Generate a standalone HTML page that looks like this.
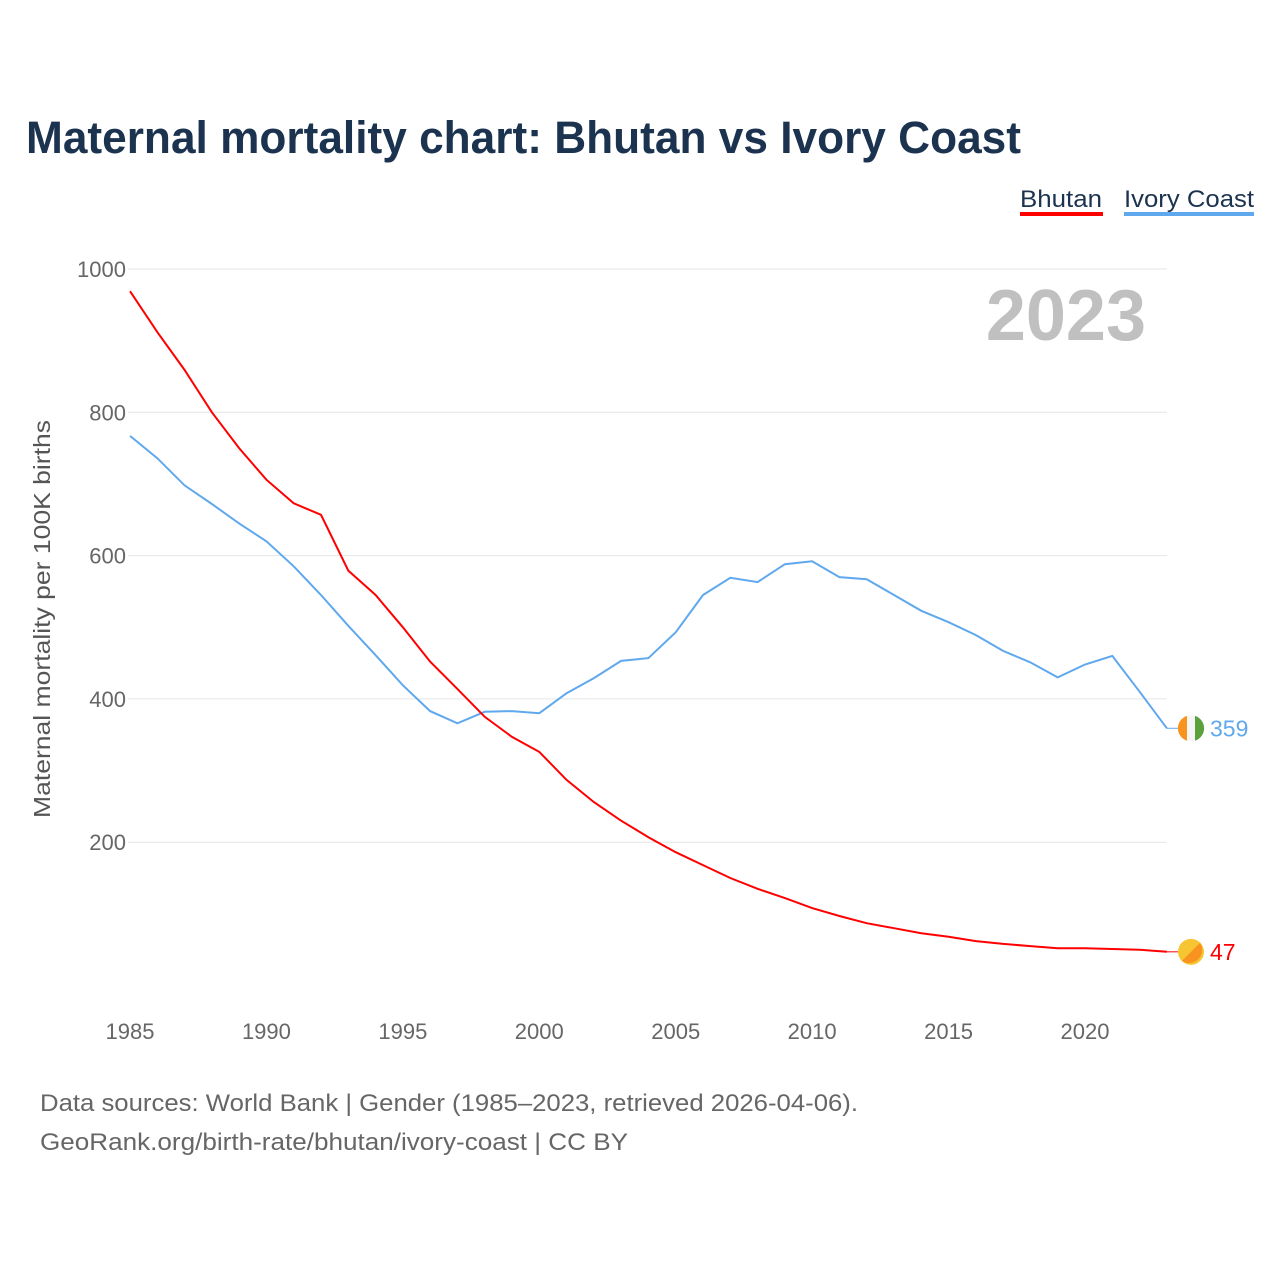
<!DOCTYPE html>
<html><head><meta charset="utf-8">
<style>
body{margin:0;background:#fff;width:1280px;height:1280px;overflow:hidden;font-family:"Liberation Sans",sans-serif}
</style></head>
<body>
<svg id="chart" width="1280" height="1280" xmlns="http://www.w3.org/2000/svg">
<text x="26" y="153" font-size="45" font-weight="bold" fill="#1c3350" textLength="995" lengthAdjust="spacingAndGlyphs">Maternal mortality chart: Bhutan vs Ivory Coast</text>
<g><text x="1020" y="207" font-size="24" fill="#1c3350" textLength="82" lengthAdjust="spacingAndGlyphs">Bhutan</text><rect x="1020" y="212" width="83" height="4" fill="#ff0000"/></g>
<g><text x="1124" y="207" font-size="24" fill="#1c3350" textLength="130" lengthAdjust="spacingAndGlyphs">Ivory Coast</text><rect x="1124" y="212" width="130" height="4" fill="#5fa8ee"/></g>
<text x="1146" y="340" text-anchor="end" font-size="72" font-weight="bold" fill="#c0c0c0">2023</text>
<g id="grid"></g><g id="series"></g>
<text transform="translate(50,619) rotate(-90)" text-anchor="middle" font-size="23" fill="#555" textLength="398" lengthAdjust="spacingAndGlyphs">Maternal mortality per 100K births</text>
<text x="40" y="1111" font-size="24" fill="#666" textLength="818" lengthAdjust="spacingAndGlyphs">Data sources: World Bank | Gender (1985–2023, retrieved 2026-04-06).</text>
<text x="40" y="1150" font-size="24" fill="#666" textLength="588" lengthAdjust="spacingAndGlyphs">GeoRank.org/birth-rate/bhutan/ivory-coast | CC BY</text>
</svg>
<script>
const years=[];for(let y=1985;y<=2023;y++)years.push(y);
const bhutan=[969,912,859,800,750,706,673,657,579,545,500,452,414,375,347,326,287,256,230,207,186,168,150,135,122,108,97,87,80,73,68,62,58,55,52,52,51,50,47];
const ivoryCoast=[767,736,698,672,645,620,585,545,502,461,419,383,366,382,383,380,408,429,453,457,493,545,569,563,588,592,570,567,545,523,507,489,467,451,430,448,460,410,359];
const yTicks=[200,400,600,800,1000];
const xTicks=[1985,1990,1995,2000,2005,2010,2015,2020];
const NS="http://www.w3.org/2000/svg";
const X=y=>130+(y-1985)*(955/35);
const Y=v=>985.5-v*0.7165;
const grid=document.getElementById('grid'),ser=document.getElementById('series');
function mk(tag,attrs,parent){const e=document.createElementNS(NS,tag);for(const k in attrs)e.setAttribute(k,attrs[k]);parent.appendChild(e);return e;}
yTicks.forEach(t=>{
 const l=mk('line',{x1:128,x2:1167,y1:Y(t),y2:Y(t),stroke:'#e6e6e6','stroke-width':1},grid);
 
 
 const tx=mk('text',{x:126,y:Y(t)+8,'text-anchor':'end','font-size':22,fill:'#666'},grid);tx.textContent=t;
 
 
});
xTicks.forEach(t=>{
 const tx=mk('text',{x:X(t),y:1039,'text-anchor':'middle','font-size':22,fill:'#666'},grid);tx.textContent=t;
 
 
});
function line(vals,color,name){
 const d=vals.map((v,i)=>(i?'L':'M')+X(years[i]).toFixed(1)+','+Y(v).toFixed(1)).join('');
 const p=mk('path',{d:d,fill:'none',stroke:color,'stroke-width':2},ser);
 
 
 const last=vals[vals.length-1],ly=Y(last);
 mk('line',{x1:X(2023),x2:1180,y1:ly,y2:ly,stroke:color,'stroke-width':1},ser);
 const c=mk('circle',{cx:1191,cy:ly,r:13,fill:name==='bhutan'?'#f7c531':'#f5f5f5'},ser);
 
 
 if(name==='ivory-coast'){
  mk('path',{d:`M1187,${ly-12.4}A13,13 0 0 0 1187,${ly+12.4}Z`,fill:'#f7931e'},ser);
  mk('path',{d:`M1195,${ly-12.4}A13,13 0 0 1 1195,${ly+12.4}Z`,fill:'#5aa03c'},ser);
 } else {
  mk('path',{d:`M1200,${ly-9}A13,13 0 0 1 1182,${ly+9}Z`,fill:'#f7931e'},ser);
 }
 const t=mk('text',{x:1210,y:ly+8,'font-size':23,fill:color},ser);t.textContent=last;
 
 
}
line(ivoryCoast,'#5fa8ee','ivory-coast');
line(bhutan,'#ff0000','bhutan');
</script>
</body></html>
